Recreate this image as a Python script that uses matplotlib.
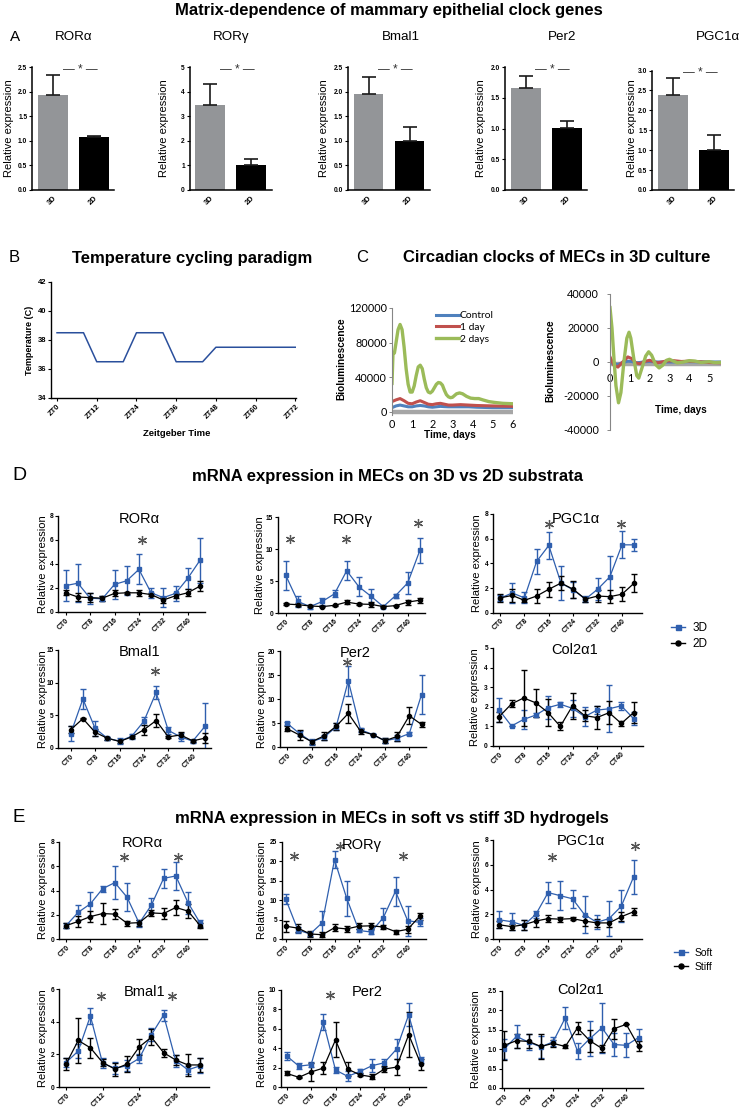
import matplotlib
matplotlib.use("Agg")
import matplotlib.pyplot as plt
from matplotlib import font_manager
from matplotlib.lines import Line2D

W, H = 742, 1111
BLUE = "#2f5fae"
BAR_GRAY = "#939598"

# ------------------------------------------------------------
# A : bar charts, 3D vs 2D
a_genes = ["RORα", "RORγ", "Bmal1", "Per2", "PGC1α"]
a_3d = [1.93, 3.46, 1.96, 1.66, 2.38]
a_3d_err = [0.41, 0.86, 0.33, 0.20, 0.44]
a_2d = [1.07, 1.00, 1.00, 1.01, 1.00]
a_2d_err = [0.03, 0.28, 0.28, 0.12, 0.39]
a_ymax = [2.5, 5, 2.5, 2.0, 3.0]
a_ystep = [0.5, 1, 0.5, 0.5, 0.5]

# B : temperature programme
b_zt = [0, 8, 12, 20, 24, 32, 36, 44, 48, 72]
b_temp = [38.5, 38.5, 36.5, 36.5, 38.5, 38.5, 36.5, 36.5, 37.5, 37.5]
b_ticks = [0, 12, 24, 36, 48, 60, 72]

# C : bioluminescence (raw, left)
c_raw_days_2d = [0, 0.05, 0.12, 0.2, 0.3, 0.4, 0.5, 0.6, 0.7, 0.8, 0.9, 1.0, 1.1, 1.2,
                 1.3, 1.4, 1.5, 1.6, 1.7, 1.8, 1.9, 2.0, 2.1, 2.2, 2.3, 2.4, 2.5, 2.6,
                 2.7, 2.8, 2.9, 3.0, 3.1, 3.2, 3.35, 3.5, 3.7, 3.9, 4.1, 4.3, 4.5, 4.8,
                 5.1, 5.5, 6.0]
c_raw_2d = [33000, 68000, 68000, 80000, 95000, 101000, 95000, 75000, 50000, 32000,
            23000, 23000, 30000, 42000, 52000, 54000, 50000, 38000, 28000, 23000,
            22000, 24000, 28000, 32000, 34000, 33500, 31000, 25000, 20000, 17500,
            16500, 17000, 19000, 21000, 22000, 21000, 18000, 16000, 15500, 15500,
            14000, 12000, 11000, 10000, 9500]
c_raw_days = [0, 0.2, 0.4, 0.6, 0.8, 1.0, 1.2, 1.4, 1.6, 1.8, 2.0, 2.2, 2.4, 2.6, 2.8,
              3.0, 3.4, 3.8, 4.2, 5.0, 6.0]
c_raw_1d = [12000, 14000, 15500, 13000, 10000, 9500, 11500, 13000, 11000, 9000, 8500,
            9500, 10000, 9000, 8000, 8000, 8500, 8000, 7500, 7000, 6500]
c_raw_ctrl = [5000, 7000, 8000, 7000, 6000, 6000, 7000, 7500, 7000, 6000, 5500, 6000,
              6500, 6200, 6000, 6000, 6000, 6000, 5500, 5000, 5000]
c_raw_base = 0

# C : detrended (right)
c_det_days_2d = [0, 0.1, 0.2, 0.3, 0.43, 0.55, 0.7, 0.85, 0.96, 1.05, 1.2, 1.35, 1.45,
                 1.6, 1.8, 1.95, 2.1, 2.3, 2.48, 2.65, 2.85, 3.0, 3.2, 3.4, 3.7, 4.0,
                 4.3, 4.6, 5.0, 5.3, 5.6]
c_det_2d = [32000, 20000, 2000, -14000, -24000, -18000, 0, 14000, 17500, 14000, 2000,
            -8000, -9500, -4000, 3500, 6000, 4000, -1500, -3500, -2000, 1000, 1600, 500,
            -500, 0, 800, 500, -300, 200, -400, -200]
c_det_days = [0, 0.2, 0.4, 0.6, 0.9, 1.1, 1.3, 1.5, 1.8, 2.0, 2.4, 2.8, 3.2, 3.6, 4.0,
              4.5, 5.0, 5.6]
c_det_1d = [3000, -2000, -3000, -500, 3000, 2000, -500, -1000, 500, 1000, -500, 500, 800,
            300, 500, 200, -300, -500]
c_det_ctrl = [-500, -1000, -1500, -500, 500, 300, -500, -300, 200, 300, 0, 0, 0, 100, 200,
              100, 0, 0]
c_det_base = -1300

# D / E : time courses, sampled every 4 h
ct_hours = [0, 4, 8, 12, 16, 20, 24, 28, 32, 36, 40, 44]

d_rora_3d = [2.2, 2.4, 1.15, 1.1, 2.3, 2.6, 3.55, 1.6, 1.2, 1.55, 2.8, 4.3]
d_rora_3d_err = [1.3, 1.6, 0.45, 0.2, 1.2, 1.2, 1.25, 0.4, 0.8, 0.65, 0.9, 1.9]
d_rora_2d = [1.6, 1.25, 1.2, 1.15, 1.55, 1.6, 1.6, 1.45, 1.0, 1.35, 1.6, 2.15]
d_rora_2d_err = [0.2, 0.3, 0.35, 0.2, 0.25, 0.1, 0.25, 0.15, 0.25, 0.2, 0.3, 0.4]

d_rorg_3d = [5.9, 1.8, 1.0, 1.8, 3.0, 6.6, 4.1, 2.6, 1.0, 2.7, 4.7, 9.8]
d_rorg_3d_err = [2.25, 0.8, 0.3, 0.6, 0.55, 1.5, 1.45, 1.1, 0.2, 0.3, 1.7, 1.95]
d_rorg_2d = [1.4, 1.3, 1.1, 1.0, 1.2, 1.7, 1.4, 1.35, 1.0, 1.15, 1.7, 2.0]
d_rorg_2d_err = [0.1, 0.2, 0.2, 0.1, 0.1, 0.3, 0.1, 0.4, 0.1, 0.1, 0.4, 0.4]

d_pgc_3d = [1.17, 1.6, 1.2, 4.15, 5.45, 2.4, 1.85, 1.1, 1.9, 2.9, 5.5, 5.5]
d_pgc_3d_err = [0.25, 0.8, 0.45, 1.0, 1.1, 1.4, 0.65, 0.25, 0.9, 1.7, 1.1, 0.5]
d_pgc_2d = [1.2, 1.4, 1.0, 1.35, 1.9, 2.4, 1.9, 1.1, 1.35, 1.3, 1.5, 2.4]
d_pgc_2d_err = [0.3, 0.55, 0.1, 0.55, 0.6, 0.55, 0.7, 0.2, 0.45, 0.5, 0.55, 0.75]

d_bmal_3d = [2.2, 7.5, 3.0, 1.5, 1.05, 1.8, 4.1, 8.5, 2.7, 1.7, 1.05, 3.3]
d_bmal_3d_err = [1.2, 1.5, 1.2, 0.2, 0.45, 0.4, 0.65, 1.05, 0.55, 0.6, 0.25, 3.6]
d_bmal_2d = [2.8, 4.5, 2.4, 1.5, 1.0, 1.7, 2.8, 4.2, 1.7, 2.0, 1.1, 1.5]
d_bmal_2d_err = [0.55, 0.1, 0.5, 0.2, 0.2, 0.2, 0.75, 0.95, 0.2, 0.4, 0.2, 0.75]

d_per2_3d = [4.9, 2.8, 1.1, 2.0, 4.2, 13.8, 3.6, 2.6, 1.3, 1.8, 2.8, 10.9]
d_per2_3d_err = [0.4, 0.6, 0.65, 0.6, 0.7, 3.15, 0.4, 0.2, 0.5, 0.6, 0.4, 4.1]
d_per2_2d = [3.8, 2.5, 1.1, 2.3, 4.3, 7.0, 3.3, 2.6, 1.3, 2.2, 6.5, 4.7]
d_per2_2d_err = [0.5, 1.05, 0.4, 0.8, 0.7, 1.9, 0.5, 0.2, 0.5, 0.9, 1.75, 0.6]

d_col2_3d = [1.83, 1.02, 1.36, 1.58, 1.96, 2.13, 1.92, 1.5, 1.83, 1.9, 2.05, 1.4]
d_col2_3d_err = [0.62, 0.0, 0.48, 0.08, 0.58, 0.12, 0.42, 0.5, 0.22, 1.2, 0.22, 0.32]
d_col2_2d = [1.5, 2.15, 2.45, 2.2, 1.7, 1.0, 2.05, 1.55, 1.45, 1.7, 1.15, 1.7]
d_col2_2d_err = [0.25, 0.18, 1.45, 0.72, 0.68, 0.2, 0.65, 0.28, 0.6, 0.6, 0.15, 0.55]

e_rora_soft = [1.1, 2.2, 2.9, 4.15, 4.65, 3.45, 1.3, 2.8, 5.0, 5.2, 3.0, 1.3]
e_rora_soft_err = [0.2, 0.6, 1.0, 0.25, 1.35, 1.15, 0.3, 0.6, 0.8, 1.15, 0.9, 0.3]
e_rora_stiff = [1.1, 1.45, 1.85, 2.1, 2.05, 1.3, 1.35, 2.15, 2.1, 2.6, 2.3, 1.1]
e_rora_stiff_err = [0.2, 0.45, 0.45, 0.85, 0.4, 0.2, 0.25, 0.25, 0.45, 0.6, 0.6, 0.22]

e_rorg_soft = [10.3, 2.3, 1.3, 4.2, 20.4, 10.5, 2.2, 1.8, 5.5, 12.3, 4.7, 4.3]
e_rorg_soft_err = [1.2, 0.7, 0.4, 3.0, 2.2, 4.5, 0.5, 0.55, 2.4, 3.7, 3.9, 1.0]
e_rorg_stiff = [3.3, 2.8, 1.3, 1.1, 2.9, 2.6, 3.3, 3.4, 3.1, 1.9, 2.5, 5.9]
e_rorg_stiff_err = [1.4, 1.0, 0.75, 0.6, 0.9, 0.85, 0.7, 0.8, 0.5, 0.5, 0.9, 0.9]

e_pgc_soft = [1.55, 1.4, 1.1, 2.0, 3.75, 3.5, 3.25, 1.95, 1.35, 1.65, 2.65, 5.0]
e_pgc_soft_err = [0.68, 0.7, 0.4, 0.3, 0.85, 1.15, 0.75, 1.5, 0.55, 1.4, 1.3, 1.4]
e_pgc_stiff = [1.15, 1.0, 1.15, 1.45, 1.65, 1.6, 1.65, 1.45, 1.3, 1.3, 1.8, 2.2]
e_pgc_stiff_err = [0.3, 0.25, 0.4, 0.45, 0.3, 0.2, 0.1, 0.4, 0.35, 0.35, 0.35, 0.27]

e_bmal_soft = [1.5, 2.2, 4.35, 1.45, 1.15, 1.3, 1.75, 3.2, 4.4, 1.6, 1.05, 1.3]
e_bmal_soft_err = [0.3, 0.42, 0.48, 0.3, 0.37, 0.35, 0.3, 0.4, 0.33, 0.35, 0.23, 0.45]
e_bmal_stiff = [1.4, 2.85, 2.4, 1.5, 1.1, 1.4, 2.45, 3.05, 2.1, 1.65, 1.35, 1.35]
e_bmal_stiff_err = [0.35, 1.4, 0.6, 0.2, 0.4, 0.5, 0.5, 0.5, 0.25, 0.3, 0.65, 0.45]

e_per2_soft = [3.2, 2.15, 2.3, 6.7, 1.75, 1.1, 1.6, 2.2, 2.5, 3.9, 7.45, 2.8]
e_per2_soft_err = [0.4, 0.3, 0.25, 0.8, 0.35, 0.5, 0.25, 0.7, 0.4, 1.05, 1.2, 0.3]
e_per2_stiff = [1.4, 1.0, 1.55, 1.95, 4.85, 1.85, 1.25, 1.05, 1.85, 2.05, 5.4, 2.35]
e_per2_stiff_err = [0.2, 0.05, 0.9, 0.6, 1.8, 0.75, 0.15, 0.25, 0.35, 0.85, 2.3, 0.55]

e_col2_soft = [1.01, 1.33, 1.18, 1.06, 1.19, 1.81, 0.95, 1.27, 1.55, 1.12, 1.1, 1.3]
e_col2_soft_err = [0.25, 0.3, 0.2, 0.28, 0.12, 0.28, 0.2, 0.45, 0.65, 0.3, 0.31, 0.23]
e_col2_stiff = [1.1, 1.22, 1.2, 1.07, 1.15, 1.07, 1.55, 1.22, 1.02, 1.53, 1.64, 1.08]
e_col2_stiff_err = [0.38, 0.18, 0.18, 0.32, 0.1, 0.05, 0.15, 0.28, 0.1, 0.26, 0.0, 0.13]

# significance stars: (hour, level)
d_stars = [[(24.9, 6.0)],
           [(1.4, 11.6), (19.8, 11.6), (43.3, 14.0)],
           [(16.1, 7.2), (39.7, 7.2)],
           [(27.6, 11.8)],
           [(19.6, 17.8)],
           []]
e_stars = [[(18.9, 6.8), (36.8, 6.8)],
           [(2.7, 21.5), (17.8, 23.9), (38.5, 21.3)],
           [(17.3, 6.65), (44.5, 7.5)],
           [(11.4, 5.6), (34.9, 5.6)],
           [(14.2, 9.5)],
           []]

d_series = [(d_rora_3d, d_rora_3d_err, d_rora_2d, d_rora_2d_err),
            (d_rorg_3d, d_rorg_3d_err, d_rorg_2d, d_rorg_2d_err),
            (d_pgc_3d, d_pgc_3d_err, d_pgc_2d, d_pgc_2d_err),
            (d_bmal_3d, d_bmal_3d_err, d_bmal_2d, d_bmal_2d_err),
            (d_per2_3d, d_per2_3d_err, d_per2_2d, d_per2_2d_err),
            (d_col2_3d, d_col2_3d_err, d_col2_2d, d_col2_2d_err)]
e_series = [(e_rora_soft, e_rora_soft_err, e_rora_stiff, e_rora_stiff_err),
            (e_rorg_soft, e_rorg_soft_err, e_rorg_stiff, e_rorg_stiff_err),
            (e_pgc_soft, e_pgc_soft_err, e_pgc_stiff, e_pgc_stiff_err),
            (e_bmal_soft, e_bmal_soft_err, e_bmal_stiff, e_bmal_stiff_err),
            (e_per2_soft, e_per2_soft_err, e_per2_stiff, e_per2_stiff_err),
            (e_col2_soft, e_col2_soft_err, e_col2_stiff, e_col2_stiff_err)]
de_genes = ["RORα", "RORγ", "PGC1α", "Bmal1", "Per2", "Col2α1"]
d_yaxis = [(8, 2), (15, 5), (8, 2), (15, 5), (20, 5), (5, 1)]
e_yaxis = [(8, 2), (25, 5), (8, 2), (6, 2), (10, 2), (2.5, 0.5)]
e_xstep = [8, 8, 8, 12, 8, 8]

# ------------------------------------------------------------
plt.rcParams["font.family"] = ["Liberation Sans", "DejaVu Sans"]
installed = {f.name for f in font_manager.fontManager.ttflist}
if "Liberation Sans Narrow" in installed:
    NARROW, NS = ["Liberation Sans Narrow", "Liberation Sans", "DejaVu Sans"], 1.0
else:
    NARROW, NS = ["Liberation Sans", "DejaVu Sans"], 0.84
EXCEL = ["Lato", "Liberation Sans", "DejaVu Sans"]

fig = plt.figure(figsize=(W / 100, H / 100), dpi=100)


def px_axes(left, top, right, bottom):
    return fig.add_axes([left / W, 1 - bottom / H, (right - left) / W, (bottom - top) / H])


def ftext(x, y, s, **kw):
    kw.setdefault("ha", "center")
    kw.setdefault("va", "center")
    return fig.text(x / W, 1 - y / H, s, **kw)


def prism(ax, lw=1.0):
    ax.spines["top"].set_visible(False)
    ax.spines["right"].set_visible(False)
    ax.spines["left"].set_linewidth(lw)
    ax.spines["bottom"].set_linewidth(lw)
    ax.tick_params(length=2.2, width=0.8, pad=1.2)


def fmt(v, step):
    return f"{v:.1f}" if step < 1 else f"{v:g}"


# ---------------- panel titles ----------------
ftext(389, 10, "Matrix-dependence of mammary epithelial clock genes",
      fontsize=14.2 * NS, fontweight="bold", family=NARROW)
ftext(192, 258, "Temperature cycling paradigm", fontsize=14.3 * NS, fontweight="bold",
      family=NARROW)
ftext(557, 258, "Circadian clocks of MECs in 3D culture", fontsize=14.3 * NS,
      fontweight="bold", family=NARROW)
ftext(387, 476, "mRNA expression in MECs on 3D vs 2D substrata", fontsize=12, fontweight="bold")
ftext(392, 818, "mRNA expression in MECs in soft vs stiff 3D hydrogels", fontsize=12,
      fontweight="bold")
for letter, x, y, size in [("A", 10, 37, 11), ("B", 9, 258, 12), ("C", 356, 258, 12),
                           ("D", 12, 476, 14), ("E", 12, 818, 13.5)]:
    ftext(x, y, letter, fontsize=size, ha="left")

# ---------------- A ----------------
a_boxes = [(32, 67, 114, 190), (189.5, 67, 271.5, 190), (347.6, 67, 429.6, 190),
           (504.8, 67, 586.8, 190), (652, 70.5, 734, 190)]
a_ylab_x = [9, 164, 324, 481, 632]
a_title_x = [74, 231, 401, 562, 718]
for i, gene in enumerate(a_genes):
    left, top, right, bottom = a_boxes[i]
    ax = px_axes(left, top, right, bottom)
    prism(ax, 1.1)
    ax.bar([0, 1], [a_3d[i], a_2d[i]], width=0.73, color=[BAR_GRAY, "black"])
    ax.errorbar([0, 1], [a_3d[i], a_2d[i]], yerr=[[0, 0], [a_3d_err[i], a_2d_err[i]]],
                fmt="none", ecolor="#1a1a1a", elinewidth=1.2, capsize=5, capthick=1.2)
    ax.set_xlim(-0.51, 1.49)
    ax.set_ylim(0, a_ymax[i])
    steps = int(round(a_ymax[i] / a_ystep[i]))
    yt = [k * a_ystep[i] for k in range(steps + 1)]
    ax.set_yticks(yt, [fmt(v, a_ystep[i]) for v in yt], fontsize=4.8, fontweight="bold")
    ax.set_xticks([0, 1], ["3D", "2D"], fontsize=5.5, fontweight="bold", rotation=45,
                  ha="right", rotation_mode="anchor")
    ax.tick_params(axis="x", length=0, pad=3)
    ax.text(0.66, a_ymax[i] * 0.975, "— * —", ha="center", va="center", fontsize=8.5,
            color="#333333")
    ftext(a_ylab_x[i], 128, "Relative expression", rotation=90, fontsize=8)
    ftext(a_title_x[i], 37, gene, fontsize=11.5 * NS, family=NARROW)

# ---------------- B ----------------
axb = px_axes(51.4, 282, 296, 398)
prism(axb, 1.0)
axb.plot(b_zt, b_temp, color="#2a4f9c", lw=1.1)
axb.set_xlim(-1.7, 72.2)
axb.set_ylim(34, 42)
axb.set_yticks([34, 36, 38, 40, 42], ["34", "36", "38", "40", "42"], fontsize=5.5,
               fontweight="bold")
axb.set_xticks(b_ticks, [f"ZT{t}" for t in b_ticks], fontsize=5.5, fontweight="bold",
               rotation=45, ha="right", rotation_mode="anchor")
ftext(30, 340, "Temperature (C)", rotation=90, fontsize=6.5, fontweight="bold")
ftext(177, 433, "Zeitgeber Time", fontsize=6.8, fontweight="bold")

# ---------------- C ----------------
C_BLUE, C_RED, C_GREEN = "#4f81bd", "#c0504d", "#9bbb59"
axc = px_axes(392, 308, 513, 414.6)
axc.axhline(c_raw_base, color="#a6a6a6", lw=3.2, zorder=1)
axc.plot(c_raw_days, c_raw_ctrl, color=C_BLUE, lw=2.2, label="Control")
axc.plot(c_raw_days, c_raw_1d, color=C_RED, lw=2.2, label="1 day")
axc.plot(c_raw_days_2d, c_raw_2d, color=C_GREEN, lw=2.4, label="2 days")
axc.set_xlim(0, 6)
axc.set_ylim(-3000, 120000)
for s in ("top", "right", "bottom"):
    axc.spines[s].set_visible(False)
axc.spines["left"].set_color("#868686")
axc.spines["left"].set_linewidth(0.8)
axc.set_yticks([0, 40000, 80000, 120000], ["0", "40000", "80000", "120000"],
               fontsize=7.8, family=EXCEL)
axc.set_xticks(range(7), [str(d) for d in range(7)], fontsize=7.8, family=EXCEL)
axc.tick_params(axis="y", length=2, width=0.7, color="#868686", pad=1.5)
axc.tick_params(axis="x", length=0, pad=3)
axc.legend(loc="upper left", bbox_to_anchor=(436 / W, 1 - 311 / H),
           bbox_transform=fig.transFigure, frameon=False,
           prop={"family": EXCEL, "size": 7.4}, handlelength=2.2, handletextpad=0.1,
           labelspacing=0.25, borderpad=0, borderaxespad=0)
ftext(341, 359, "Bioluminescence", rotation=90, fontsize=7.2, fontweight="bold")
ftext(450, 435, "Time, days", fontsize=7.2, fontweight="bold")

axr = px_axes(610, 294, 721, 430)
axr.axhline(c_det_base, color="#a6a6a6", lw=3.2, zorder=1)
axr.plot(c_det_days, c_det_ctrl, color=C_BLUE, lw=2.2)
axr.plot(c_det_days, c_det_1d, color=C_RED, lw=2.2)
axr.plot(c_det_days_2d, c_det_2d, color=C_GREEN, lw=2.4)
axr.set_xlim(0, 5.6)
axr.set_ylim(-40000, 40000)
for s in ("top", "right", "bottom"):
    axr.spines[s].set_visible(False)
axr.spines["bottom"].set_position(("data", 0))
axr.spines["left"].set_color("#868686")
axr.spines["left"].set_linewidth(0.8)
axr.set_yticks([-40000, -20000, 0, 20000, 40000],
               ["-40000", "-20000", "0", "20000", "40000"], fontsize=7.8, family=EXCEL)
axr.set_xticks(range(6), [str(d) for d in range(6)], fontsize=7.8, family=EXCEL)
axr.tick_params(axis="y", length=2, width=0.7, color="#868686", pad=6)
axr.tick_params(axis="x", length=0, pad=8)
ftext(550, 361, "Bioluminescence", rotation=90, fontsize=7.2, fontweight="bold")
ftext(681, 410, "Time, days", fontsize=7.2, fontweight="bold")

# ---------------- D and E ----------------
# (left, top, right, bottom, CT0 pixel, ylabel x, title x, title y)
d_layout = [(58, 516, 205, 612, 65.7, 42.7, 139, 519),
            (278, 517, 425, 613, 285.7, 260, 353, 520),
            (493, 514, 642, 612.7, 500, 476.7, 576, 519),
            (58.3, 650, 211, 748, 70.7, 42.7, 139.5, 652),
            (280, 651, 426, 747, 287.3, 261.7, 355, 653),
            (492.7, 648, 643, 746, 499.3, 475, 575, 650)]
e_layout = [(59, 842, 207, 939, 66, 42.7, 142, 843),
            (281.7, 842, 426, 939, 285.7, 261.7, 362, 845),
            (493.3, 840, 641.7, 939, 499.3, 476.7, 581, 841),
            (59.3, 989, 209, 1087, 66, 42.7, 145, 992),
            (281, 990, 426, 1087, 286.7, 261.7, 367, 992),
            (501.7, 991, 642.7, 1088, 504.3, 476, 581, 990)]
PX_PER_H = 3.05


def time_course(lay, series, gene, yaxis, stars, xstep):
    left, top, right, bottom, ct0, ylab_x, tx, ty = lay
    ax = px_axes(left, top, right, bottom)
    prism(ax, 1.0)
    m1, e1, m2, e2 = series
    h1 = ax.errorbar(ct_hours, m1, yerr=e1, color=BLUE, marker="s", ms=3.3, lw=0.9,
                     elinewidth=1.0, capsize=2.3, capthick=1.0)
    h2 = ax.errorbar(ct_hours, m2, yerr=e2, color="black", marker="o", ms=3.0, lw=0.9,
                     elinewidth=1.0, capsize=2.3, capthick=1.0)
    ax.set_xlim(-(ct0 - left) / PX_PER_H, (right - ct0) / PX_PER_H)
    ymax, ystep = yaxis
    ax.set_ylim(0, ymax)
    n = int(round(ymax / ystep))
    yt = [k * ystep for k in range(n + 1)]
    ax.set_yticks(yt, [fmt(v, ystep) for v in yt], fontsize=4.8, fontweight="bold")
    xt = list(range(0, 41, xstep))
    ax.set_xticks(xt, [f"CT{t}" for t in xt], fontsize=5, fontweight="bold", rotation=45,
                  ha="right", rotation_mode="anchor")
    if stars:
        ax.plot([s[0] for s in stars], [s[1] for s in stars], ls="none",
                marker=(6, 2, 0), ms=6.5, mew=0.9, color="#555555", clip_on=False)
    ftext(ylab_x, (top + bottom) / 2, "Relative expression", rotation=90, fontsize=8)
    ftext(tx, ty, gene, fontsize=10.5)
    return h1, h2


for i in range(6):
    hd = time_course(d_layout[i], d_series[i], de_genes[i], d_yaxis[i], d_stars[i], 8)
    if i == 0:
        d_handles = hd
for i in range(6):
    he = time_course(e_layout[i], e_series[i], de_genes[i], e_yaxis[i], e_stars[i],
                     e_xstep[i])
    if i == 0:
        e_handles = he


def legend_handles(handles):
    out = []
    for h, col, mk in zip(handles, [BLUE, "black"], ["s", "o"]):
        out.append(Line2D([], [], color=col, marker=mk, ms=3.6, lw=1.0))
    return out


fig.legend(legend_handles(d_handles), ["3D", "2D"], loc="upper left",
           bbox_to_anchor=(671 / W, 1 - 622 / H), frameon=False, fontsize=8.5,
           handlelength=1.2, handletextpad=0.6, labelspacing=0.35, borderpad=0,
           borderaxespad=0)
fig.legend(legend_handles(e_handles), ["Soft", "Stiff"], loc="upper left",
           bbox_to_anchor=(674 / W, 1 - 948 / H), frameon=False, fontsize=7.5,
           handlelength=1.3, handletextpad=0.7, labelspacing=0.35, borderpad=0,
           borderaxespad=0)

fig.savefig("out.png", dpi=100, facecolor="white")
